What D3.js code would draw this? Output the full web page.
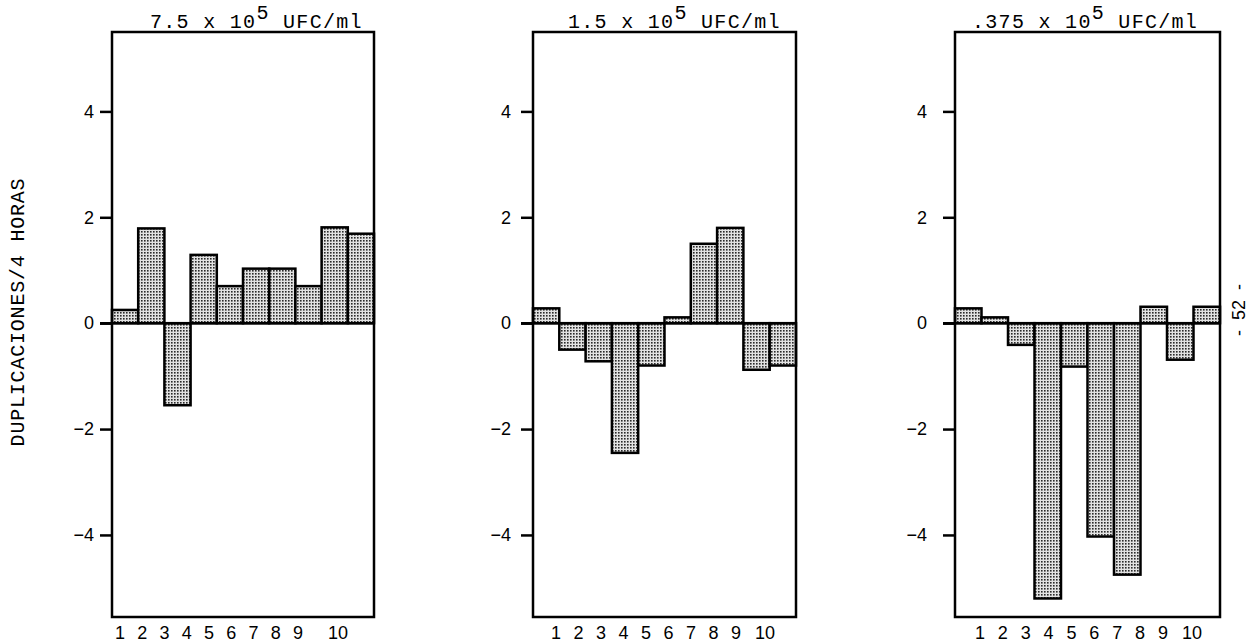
<!DOCTYPE html>
<html>
  <head>
    <meta charset="utf-8">
    <title>Duplicaciones / 4 horas</title>
    <script src="https://cdn.jsdelivr.net/npm/d3@7"></script>
    <style>
      body { margin: 0; background: #fff; }
    </style>
  </head>
  <body>
    <script>
     // data
     let categories = [1, 2, 3, 4, 5, 6, 7, 8, 9, 10];
     let serie75 = [0.25, 1.79, -1.55, 1.29, 0.70, 1.03, 1.03, 0.70, 1.81, 1.69];
     let serie15 = [0.28, -0.50, -0.72, -2.45, -0.80, 0.11, 1.50, 1.80, -0.88, -0.80];
     let serie0375 = [0.28, 0.11, -0.41, -5.20, -0.82, -4.03, -4.75, 0.31, -0.69, 0.31];
     let titles = ["7.5", "1.5", ".375"];
     let exponent = "5";
     let unit = "UFC/ml";
     let yTicks = [-4, -2, 0, 2, 4];
     let yLabel = "DUPLICACIONES/4 HORAS";
     let pageNumber = "-  52  -";

     let series = [serie75, serie15, serie0375];

     // canvas
     let w = 1251;
     let h = 644;
     let plotTop = 32, plotBottom = 617;
     let tickLen = 12;

     // layout of the three panels (typed sheet, so every panel is a bit off)
     let panels = [
       {left: 112, right: 374, titleX: 150, pad: 6,  lab1: 120, lab9: 298, lab10: 338},
       {left: 533, right: 796, titleX: 568, pad: 10, lab1: 556, lab9: 736, lab10: 765},
       {left: 955, right: 1220, titleX: 972, pad: 16, lab1: 980, lab9: 1163, lab10: 1192}
     ];

     let svg = d3.select("body").append("svg")
                 .attr("width", w)
                 .attr("height", h)
                 .style("display", "block");

     // stipple fill for the bars
     let pat = svg.append("defs").append("pattern")
                  .attr("id", "stipple")
                  .attr("patternUnits", "userSpaceOnUse")
                  .attr("width", 3)
                  .attr("height", 3);
     pat.append("rect").attr("width", 3).attr("height", 3).attr("fill", "#e2e2e2");
     pat.append("rect").attr("width", 1.6).attr("height", 1.6).attr("fill", "#2a2a2a");

     let yScale = d3.scaleLinear()
                    .domain([-5.55, 5.5])
                    .range([plotBottom, plotTop]);

     panels.forEach((p, i) => {
       let g = svg.append("g");
       let xScale = d3.scaleBand()
                      .domain(categories)
                      .range([p.left, p.right])
                      .padding(0);

       // bars
       g.selectAll("rect.bar")
        .data(series[i])
        .enter()
        .append("rect")
        .attr("class", "bar")
        .attr("x", (d, j) => xScale(categories[j]))
        .attr("width", xScale.bandwidth())
        .attr("y", (d) => yScale(Math.max(0, d)))
        .attr("height", (d) => Math.abs(yScale(d) - yScale(0)))
        .attr("fill", "url(#stipple)")
        .attr("stroke", "#000")
        .attr("stroke-width", 2.5);

       // zero line, runs out past the frame like the typed original
       g.append("line")
        .attr("x1", p.left - tickLen)
        .attr("x2", p.right)
        .attr("y1", yScale(0))
        .attr("y2", yScale(0))
        .attr("stroke", "#000")
        .attr("stroke-width", 2.5);

       // frame
       g.append("rect")
        .attr("x", p.left)
        .attr("y", plotTop)
        .attr("width", p.right - p.left)
        .attr("height", plotBottom - plotTop)
        .attr("fill", "none")
        .attr("stroke", "#000")
        .attr("stroke-width", 2.5);

       // y axis
       let yAxis = d3.axisLeft()
                     .scale(yScale)
                     .tickValues(yTicks)
                     .tickSize(tickLen)
                     .tickPadding(p.pad);
       let ax = g.append("g")
                 .attr("transform", "translate(" + p.left + ", 0)")
                 .call(yAxis);
       ax.select(".domain").remove();
       ax.selectAll(".tick line")
         .attr("stroke", "#000")
         .attr("stroke-width", 2.5);
       ax.selectAll(".tick text")
         .attr("fill", "#000")
         .style("font-family", "Liberation Sans, Arial, sans-serif")
         .style("font-size", "18px");

       // x labels, typed separately from the bars
       let labX = d3.scaleLinear().domain([1, 9]).range([p.lab1, p.lab9]);
       g.selectAll("text.xlab")
        .data(categories)
        .enter()
        .append("text")
        .attr("class", "xlab")
        .attr("x", (d) => d < 10 ? labX(d) : p.lab10)
        .attr("y", 639)
        .attr("text-anchor", "middle")
        .style("font-family", "Liberation Sans, Arial, sans-serif")
        .style("font-size", "18px")
        .style("fill", "#000")
        .text((d) => d);

       // title
       let t = g.append("text")
                .attr("x", p.titleX)
                .attr("y", 28)
                .style("font-family", "Liberation Mono, Courier New, monospace")
                .style("font-size", "20px")
                .style("letter-spacing", "1.3px")
                .style("fill", "#000");
       t.append("tspan").text(titles[i] + " x 10");
       t.append("tspan").attr("dy", -9).text(exponent);
       t.append("tspan").attr("dy", 9).text(" " + unit);
     });

     // y axis title
     svg.append("text")
        .attr("transform", "translate(24, 312) rotate(-90)")
        .attr("text-anchor", "middle")
        .style("font-family", "Liberation Mono, Courier New, monospace")
        .style("font-size", "20px")
        .style("letter-spacing", "0.8px")
        .style("fill", "#000")
        .text(yLabel);

     // page number
     svg.append("text")
        .attr("transform", "translate(1245, 310) rotate(-90)")
        .attr("text-anchor", "middle")
        .style("font-family", "Liberation Sans, Arial, sans-serif")
        .style("font-size", "18px")
        .style("white-space", "pre")
        .style("fill", "#000")
        .text(pageNumber);
    </script>
  </body>
</html>
